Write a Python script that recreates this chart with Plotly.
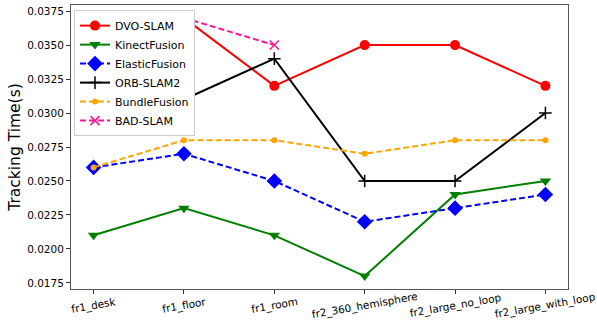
import plotly.graph_objects as go

categories = ["fr1_desk", "fr1_floor", "fr1_room", "fr2_360_hemisphere", "fr2_large_no_loop", "fr2_large_with_loop"]
dvo_slam = [None, 0.037, 0.032, 0.035, 0.035, 0.032]
kinect_fusion = [0.021, 0.023, 0.021, 0.018, 0.024, 0.025]
elastic_fusion = [0.026, 0.027, 0.025, 0.022, 0.023, 0.024]
orb_slam2 = [0.030, 0.031, 0.034, 0.025, 0.025, 0.030]
bundle_fusion = [0.026, 0.028, 0.028, 0.027, 0.028, 0.028]
bad_slam = [None, 0.037, 0.035, None, None, None]
y_ticks = [0.0175, 0.0200, 0.0225, 0.0250, 0.0275, 0.0300, 0.0325, 0.0350, 0.0375]

xs = list(range(len(categories)))

series = [
    ("DVO-SLAM", dvo_slam, "#ff0000", "solid", "circle", 10, None),
    ("KinectFusion", kinect_fusion, "#008000", "solid", "triangle-down", 10, None),
    ("ElasticFusion", elastic_fusion, "#0000ff", "6px,3px", "diamond", 12, None),
    ("ORB-SLAM2", orb_slam2, "#000000", "solid", "cross-thin", 9, 1.5),
    ("BundleFusion", bundle_fusion, "#ffa500", "6px,3px", "circle", 6, None),
    ("BAD-SLAM", bad_slam, "#ff1493", "6px,3px", "x-thin", 9, 1.5),
]

fig = go.Figure()
for name, vals, color, dash, sym, size, lw in series:
    marker = dict(symbol=sym, size=size, color=color)
    if lw:
        marker["line"] = dict(color=color, width=lw)
    fig.add_trace(go.Scatter(
        x=xs, y=vals, name=name, mode="lines+markers",
        line=dict(color=color, width=2, dash=dash),
        marker=marker, connectgaps=False,
    ))

for i, lab in enumerate(categories):
    fig.add_annotation(
        x=i, xref="x", y=0, yref="paper", yshift=-16,
        text=lab, showarrow=False, textangle=-10,
        xanchor="center", yanchor="middle",
        font=dict(family="DejaVu Sans", size=10.5, color="black"),
    )

fig.update_layout(
    width=597, height=327,
    margin=dict(l=71, r=29, t=5, b=38),
    paper_bgcolor="white", plot_bgcolor="white",
    font=dict(family="DejaVu Sans", size=10.5, color="black"),
    showlegend=True,
    legend=dict(
        x=0.006, y=0.982, xanchor="left", yanchor="top",
        bgcolor="white", bordercolor="#cccccc", borderwidth=1,
        font=dict(size=11), tracegroupgap=0, itemwidth=30,
    ),
)
fig.update_xaxes(
    range=[-0.25, 5.25], tickmode="array", tickvals=xs, showticklabels=False,
    ticks="outside", ticklen=4, tickcolor="#333",
    showline=True, linecolor="#555", linewidth=1, mirror=True,
    showgrid=False, zeroline=False,
)
fig.update_yaxes(
    range=[0.01705, 0.03795], tickmode="array", tickvals=y_ticks,
    ticktext=[f"{v:.4f}" for v in y_ticks],
    ticks="outside", ticklen=4, tickcolor="#333",
    showline=True, linecolor="#555", linewidth=1, mirror=True,
    showgrid=False, zeroline=False,
    title=dict(text="Tracking Time(s)", font=dict(size=15.5), standoff=2),
)

fig.write_html("out.html")
